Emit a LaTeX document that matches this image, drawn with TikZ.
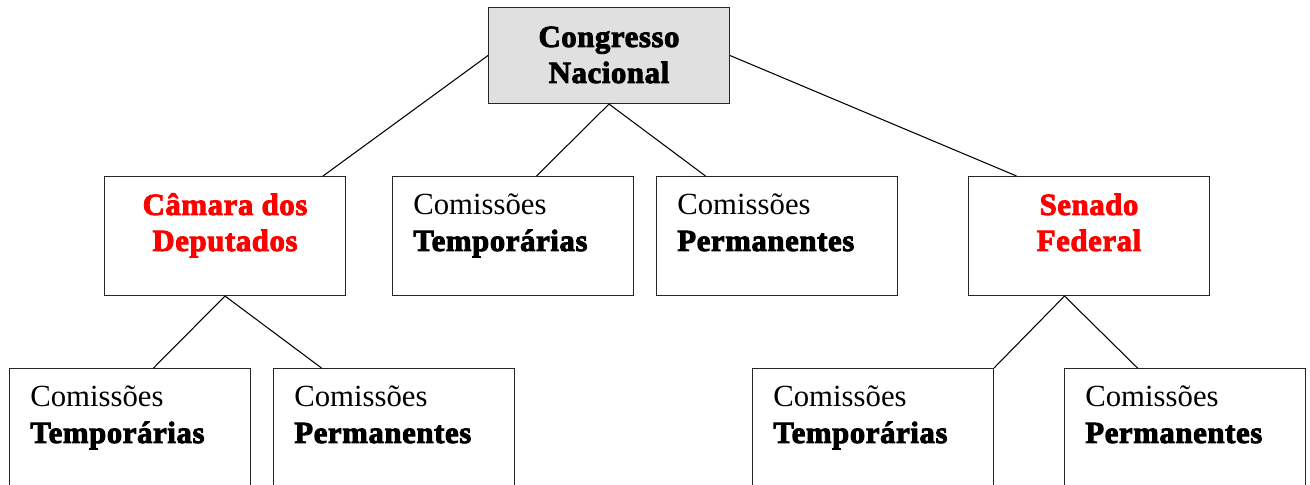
\documentclass[tikz,border=0pt]{standalone}
\usepackage{fontspec}
\setmainfont{Liberation Serif}[BoldFeatures={FakeBold=3, LetterSpace=2}]
\usetikzlibrary{positioning, calc}
\definecolor{boxgray}{RGB}{224,224,224}
\definecolor{houseRed}{RGB}{255,0,0}

\begin{document}
\begin{tikzpicture}[
        x=0.02cm, y=-0.02cm,
        box/.style={rectangle, draw=black!85, line width=0.6pt, minimum width=4.82cm, minimum height=2.38cm, inner sep=0pt, anchor=north west},
        topbox/.style={box, fill=boxgray, minimum height=1.92cm},
        house/.style={font=\fontsize{17.5pt}{20.5pt}\selectfont\bfseries, align=center, anchor=base, inner sep=0pt},
        commission/.style={font=\fontsize{17.5pt}{20.5pt}\selectfont, align=left, anchor=base west, inner sep=0pt},
        link/.style={line width=0.6pt}
    ]
        \clip (0,0) rectangle (1310,484);

        \node[topbox] (congresso) at (488,7) {};
        \node[box] (camara) at (104,176) {};
        \node[box] (tempcn) at (392,176) {};
        \node[box] (permcn) at (656,176) {};
        \node[box] (senado) at (968,176) {};
        \node[box] (tempcd) at (9,368) {};
        \node[box] (permcd) at (273,368) {};
        \node[box] (tempsf) at (752,368) {};
        \node[box] (permsf) at (1064,368) {};

        \node[house] (congressotxt) at ([yshift=-1.52cm]congresso.north) {Congresso\\Nacional};
        \node[house, text=houseRed] (camaratxt) at ([yshift=-1.5cm]camara.north) {Câmara dos\\Deputados};
        \node[house, text=houseRed] (senadotxt) at ([yshift=-1.5cm]senado.north) {Senado\\Federal};
        \node[commission] (tempcntxt) at ([xshift=0.42cm, yshift=-1.5cm]tempcn.north west) {Comissões\\\textbf{Temporárias}};
        \node[commission] (permcntxt) at ([xshift=0.42cm, yshift=-1.5cm]permcn.north west) {Comissões\\\textbf{Permanentes}};
        \node[commission] (tempcdtxt) at ([xshift=0.42cm, yshift=-1.5cm]tempcd.north west) {Comissões\\\textbf{Temporárias}};
        \node[commission] (permcdtxt) at ([xshift=0.42cm, yshift=-1.5cm]permcd.north west) {Comissões\\\textbf{Permanentes}};
        \node[commission] (tempsftxt) at ([xshift=0.42cm, yshift=-1.5cm]tempsf.north west) {Comissões\\\textbf{Temporárias}};
        \node[commission] (permsftxt) at ([xshift=0.42cm, yshift=-1.5cm]permsf.north west) {Comissões\\\textbf{Permanentes}};

        \draw[link] (congresso.west) -- ([xshift=-0.46cm]camara.north east);
        \draw[link] (congresso.south) -- ([xshift=0.47cm]tempcn.north);
        \draw[link] (congresso.south) -- ([xshift=-1.43cm]permcn.north);
        \draw[link] (congresso.east) -- ([xshift=-1.45cm]senado.north);
        \draw[link] (camara.south) -- ([xshift=0.47cm]tempcd.north);
        \draw[link] (camara.south) -- ([xshift=-1.45cm]permcd.north);
        \draw[link] ([xshift=-0.49cm]senado.south) -- (tempsf.north east);
        \draw[link] ([xshift=-0.49cm]senado.south) -- ([xshift=-0.95cm]permsf.north);
    \end{tikzpicture}
\end{document}
